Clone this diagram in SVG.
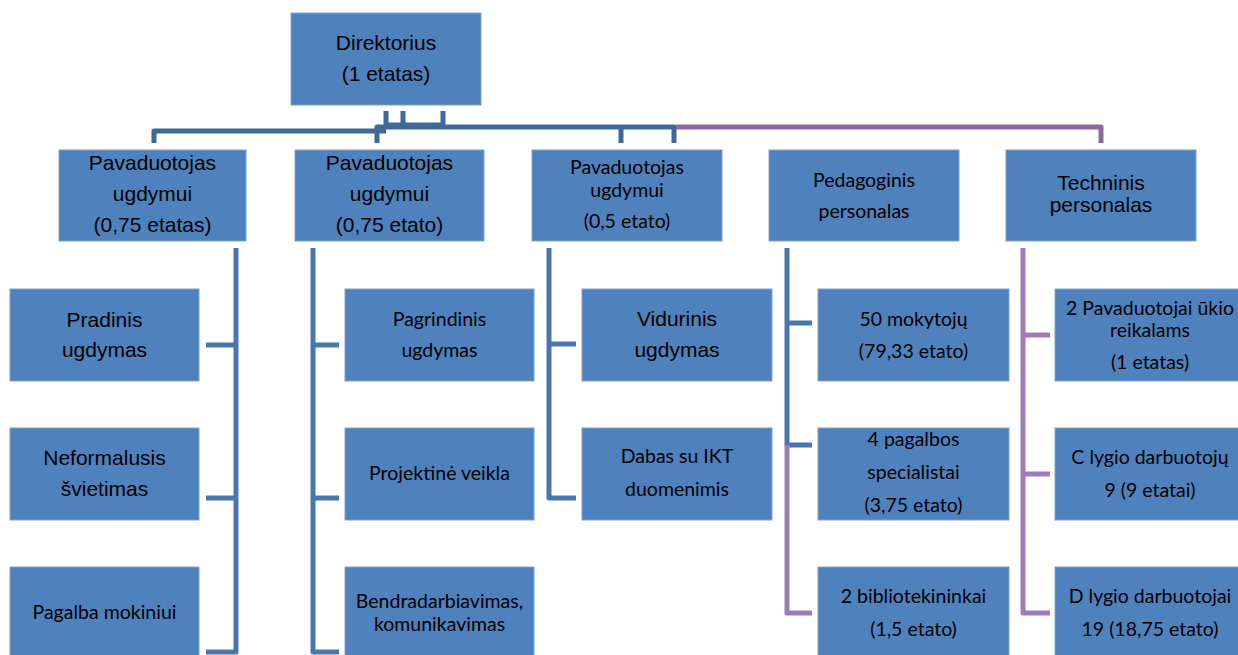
<svg xmlns="http://www.w3.org/2000/svg" width="1238" height="655" viewBox="0 0 1238 655">
<style>
.box{fill:#4F81BD;stroke:#7FA2CF;stroke-width:1}
.a{font-family:"Liberation Sans",Arial,sans-serif;font-size:21px;fill:#000;text-anchor:middle}
.c{font-family:Lato,"Noto Sans",sans-serif;font-size:19.5px;fill:#000;text-anchor:middle}
.top{fill:none;stroke:#3F6898;stroke-width:5;stroke-linejoin:round}
.topp{fill:none;stroke:#8C6A9E;stroke-width:5;stroke-linejoin:round}
.b{fill:none;stroke:#4A76AF;stroke-width:5;stroke-linejoin:round}
.p{fill:none;stroke:#9E7CB8;stroke-width:5;stroke-linejoin:round}
</style>
<rect width="1238" height="655" fill="#fff"/>
<g id="connectors">
<path class="top" d="M386 111V125H443V111M403 111V125"/>
<path class="top" d="M154 143V131H386"/>
<path class="top" d="M377 143V127H674V143"/>
<path class="top" d="M621 127V143"/>
<path class="topp" d="M676 127H1101V143"/>
<path class="b" d="M236 248V652H206M236 345H206M236 498H206"/>
<path class="b" d="M313 248V652H339M313 345H339M313 498H339"/>
<path class="b" d="M549 248V498H576M549 344H576"/>
<path class="b" d="M787 248V445H812M787 323H812"/>
<path class="p" d="M787 445V613H812"/>
<path class="p" d="M1023 248V613H1050M1023 335H1050M1023 474H1050"/>
</g>
<g id="n-director"><rect class="box" x="291" y="13" width="190" height="92"/><text class="a" x="386" y="50">Direktorius</text><text class="a" x="386" y="81">(1 etatas)</text></g>
<g id="n-pav1"><rect class="box" x="59" y="150" width="187" height="91"/><text class="a" x="152.5" y="170">Pavaduotojas</text><text class="a" x="152.5" y="201">ugdymui</text><text class="a" x="152.5" y="232">(0,75 etatas)</text></g>
<g id="n-pav2"><rect class="box" x="295" y="150" width="189" height="91"/><text class="a" x="389.5" y="170">Pavaduotojas</text><text class="a" x="389.5" y="201">ugdymui</text><text class="a" x="389.5" y="232">(0,75 etato)</text></g>
<g id="n-pav3"><rect class="box" x="532" y="150" width="190" height="91"/><text class="c" x="627" y="174">Pavaduotojas</text><text class="c" x="627" y="197">ugdymui</text><text class="c" x="627" y="228">(0,5 etato)</text></g>
<g id="n-ped"><rect class="box" x="769" y="150" width="190" height="91"/><text class="c" x="864" y="187">Pedagoginis</text><text class="c" x="864" y="218">personalas</text></g>
<g id="n-tech"><rect class="box" x="1006" y="150" width="190" height="91"/><text class="a" x="1101" y="190">Techninis</text><text class="a" x="1101" y="212">personalas</text></g>
<g id="n-pradinis"><rect class="box" x="10" y="289" width="189" height="92"/><text class="a" x="104.5" y="327">Pradinis</text><text class="a" x="104.5" y="357">ugdymas</text></g>
<g id="n-neform"><rect class="box" x="10" y="428" width="189" height="92"/><text class="a" x="104.5" y="465">Neformalusis</text><text class="a" x="104.5" y="496">švietimas</text></g>
<g id="n-pagalba"><rect class="box" x="10" y="567" width="189" height="92"/><text class="c" x="104.5" y="619">Pagalba mokiniui</text></g>
<g id="n-pagrind"><rect class="box" x="345" y="289" width="189" height="92"/><text class="c" x="439.5" y="326">Pagrindinis</text><text class="c" x="439.5" y="357">ugdymas</text></g>
<g id="n-projekt"><rect class="box" x="345" y="428" width="189" height="92"/><text class="c" x="439.5" y="480">Projektinė veikla</text></g>
<g id="n-bendr"><rect class="box" x="345" y="567" width="189" height="92"/><text class="c" x="439.5" y="608">Bendradarbiavimas,</text><text class="c" x="439.5" y="631">komunikavimas</text></g>
<g id="n-vidur"><rect class="box" x="582" y="289" width="190" height="92"/><text class="a" x="677" y="326">Vidurinis</text><text class="a" x="677" y="357">ugdymas</text></g>
<g id="n-dabas"><rect class="box" x="582" y="428" width="190" height="92"/><text class="c" x="677" y="463">Dabas su IKT</text><text class="c" x="677" y="496">duomenimis</text></g>
<g id="n-mokyt"><rect class="box" x="818" y="289" width="191" height="92"/><text class="c" x="913.5" y="326">50 mokytojų</text><text class="c" x="913.5" y="358">(79,33 etato)</text></g>
<g id="n-spec"><rect class="box" x="818" y="428" width="191" height="92"/><text class="c" x="913.5" y="446">4 pagalbos</text><text class="c" x="913.5" y="479">specialistai</text><text class="c" x="913.5" y="512">(3,75 etato)</text></g>
<g id="n-bibl"><rect class="box" x="818" y="567" width="191" height="92"/><text class="c" x="913.5" y="603">2 bibliotekininkai</text><text class="c" x="913.5" y="636">(1,5 etato)</text></g>
<g id="n-ukio"><rect class="box" x="1055" y="289" width="190" height="92"/><text class="c" x="1150" y="315">2 Pavaduotojai ūkio</text><text class="c" x="1150" y="337">reikalams</text><text class="c" x="1150" y="369">(1 etatas)</text></g>
<g id="n-clyg"><rect class="box" x="1055" y="428" width="190" height="92"/><text class="c" x="1150" y="464">C lygio darbuotojų</text><text class="c" x="1150" y="497">9 (9 etatai)</text></g>
<g id="n-dlyg"><rect class="box" x="1055" y="567" width="190" height="92"/><text class="c" x="1150" y="603">D lygio darbuotojai</text><text class="c" x="1150" y="636">19 (18,75 etato)</text></g>
</svg>
